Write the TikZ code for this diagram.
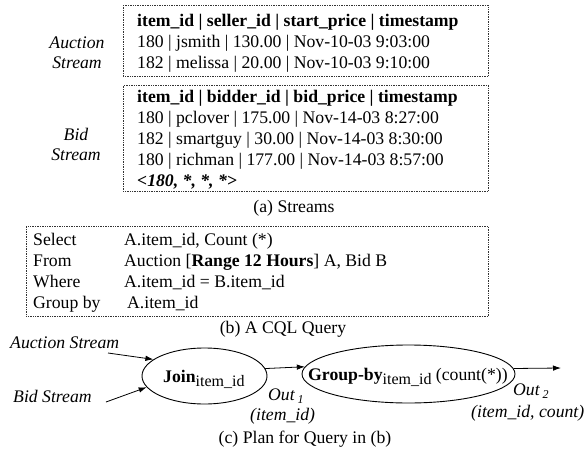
\documentclass[tikz,border=0pt]{standalone}
\usepackage{fontspec}
\setmainfont{Liberation Serif}
\usetikzlibrary{shapes.geometric,arrows.meta}
\newcommand{\fsz}{\fontsize{17.7}{21}\selectfont}
\newcommand{\subsz}{\fontsize{16}{16}\selectfont}
\begin{document}
\begin{tikzpicture}[x=1pt,y=-1pt,
  box/.style={draw=black!80, densely dotted, line width=0.7pt, inner sep=0pt, anchor=north west},
  txt/.style={inner sep=0pt, anchor=base west, font=\fsz},
  lbl/.style={inner sep=0pt, anchor=base, font=\fsz\itshape},
  captext/.style={inner sep=0pt, anchor=base, font=\fsz},
  op/.style={draw, ellipse, line width=0.9pt, inner sep=0pt},
  arr/.style={-{Latex[length=8pt,width=5.5pt]}, line width=0.8pt}]
\useasboundingbox (0,0) rectangle (586,458);
% (a) streams
\node[box, minimum width=365pt, minimum height=71pt] (abox) at (123,5) {};
\node[box, minimum width=365pt, minimum height=106pt] (bbox) at (123,85) {};
\node[txt] (a1) at (137,26) {\bfseries item\_id | seller\_id | start\_price | timestamp};
\node[txt] (a2) at (137,47) {180 | jsmith | 130.00 | Nov-10-03 9:03:00};
\node[txt] (a3) at (137,68) {182 | melissa | 20.00 | Nov-10-03 9:10:00};
\node[txt] (b1) at (137,102) {\bfseries item\_id | bidder\_id | bid\_price | timestamp};
\node[txt] (b2) at (137,123) {180 | pclover | 175.00 | Nov-14-03 8:27:00};
\node[txt] (b3) at (137,144) {182 | smartguy | 30.00 | Nov-14-03 8:30:00};
\node[txt] (b4) at (137,165) {180 | richman | 177.00 | Nov-14-03 8:57:00};
\node[txt] (b5) at (137,186) {\bfseries\itshape <180, *, *, *>};
\node[lbl] (al1) at (77,48) {Auction};
\node[lbl] (al2) at (77,68.5) {Stream};
\node[lbl] (bl1) at (76,140) {Bid};
\node[lbl] (bl2) at (76,160) {Stream};
\node[captext] (capa) at (294,212) {(a) Streams};
% (b) query
\node[box, minimum width=462pt, minimum height=90pt] (qbox) at (26,226) {};
\node[txt] (q1k) at (33,245) {Select};
\node[txt] (q1v) at (124,245) {A.item\_id, Count (*)};
\node[txt] (q2k) at (33,266) {From};
\node[txt] (q2v) at (124,266) {Auction [\textbf{Range 12 Hours}] A, Bid B};
\node[txt] (q3k) at (33,287) {Where};
\node[txt] (q3v) at (124,287) {A.item\_id = B.item\_id};
\node[txt] (q4k) at (33,308) {Group by};
\node[txt] (q4v) at (127,308) {A.item\_id};
\node[captext] (capb) at (283,333) {(b) A CQL Query};
% (c) plan
\node[op, minimum width=125pt, minimum height=56pt] (join) at (204.5,376) {};
\node[op, minimum width=213pt, minimum height=58pt] (gb) at (408.5,374) {};
\node[txt] (joinl) at (163,382) {\bfseries Join\raisebox{-4pt}{\subsz\mdseries item\_id}};
\node[txt] (gbl) at (308,380) {\bfseries Group-by\raisebox{-4pt}{\subsz\mdseries item\_id} \mdseries(count(*))};
\node[txt, font=\fsz\itshape] (as) at (10,348) {Auction Stream};
\node[txt, font=\fsz\itshape] (bs) at (13,402) {Bid Stream};
\coordinate (as0) at (108,353);
\coordinate (bs0) at (106,402);
\coordinate (outend) at (561,368);
\draw[arr] (as0) -- (join.162);
\draw[arr] (bs0) -- (join.191);
\draw[arr] (join.7.6) -- (gb.176.7);
\draw[arr] (gb.3.3) -- (outend);
\node[txt, font=\fsz\itshape] (o1) at (268,400) {Out\,\raisebox{-3pt}{\fontsize{12}{12}\selectfont 1}};
\node[txt, font=\fsz\itshape] (o1b) at (250,420) {(item\_id)};
\node[txt, font=\fsz\itshape] (o2) at (513,395) {Out\,\raisebox{-3pt}{\fontsize{12}{12}\selectfont 2}};
\node[txt, font=\fsz\itshape] (o2b) at (471,417) {(item\_id, count)};
\node[captext] (capc) at (305,443) {(c) Plan for Query in (b)};
\end{tikzpicture}
\end{document}
